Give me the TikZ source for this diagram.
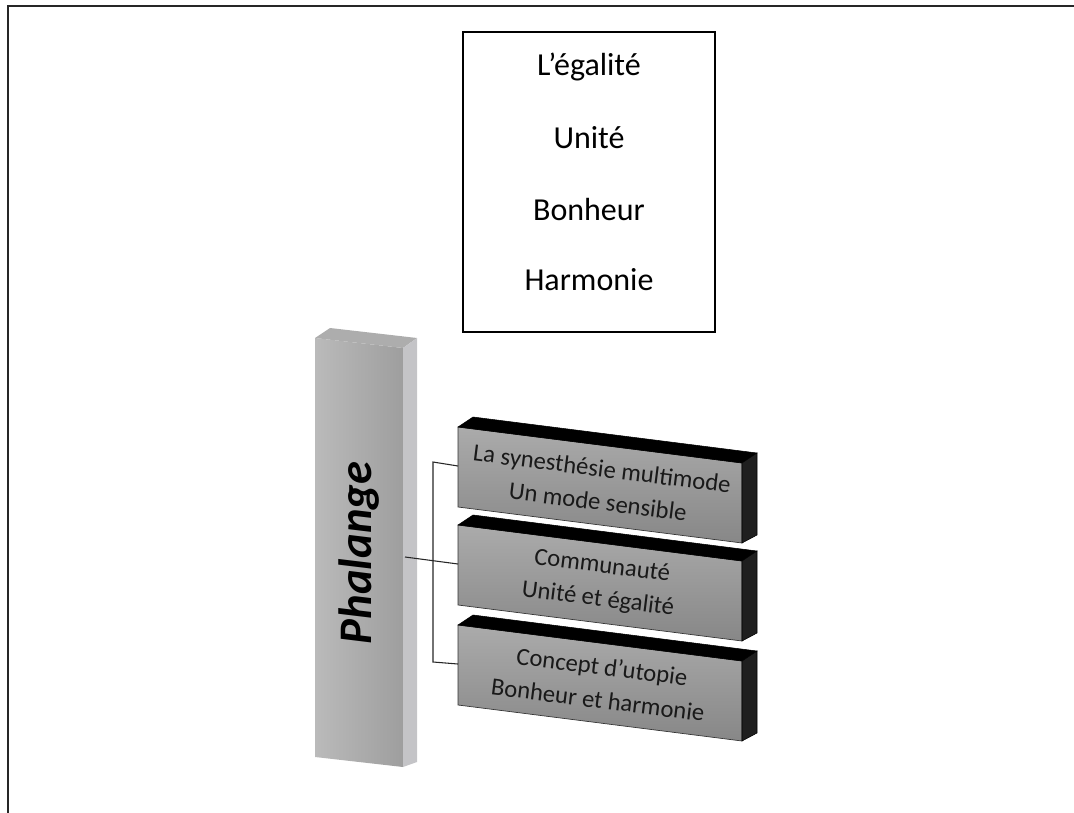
\documentclass[tikz,border=0pt]{standalone}
\usepackage{fontspec}
\setmainfont{Carlito}
\begin{document}
\begin{tikzpicture}[x=0.75pt,y=-0.75pt,
  frameline/.style={line width=1.6pt,draw=black!85},
  listbox/.style={draw=black,line width=1.1pt},
  listtxt/.style={font=\fontsize{24}{28}\selectfont,text=black},
  slabtxt/.style={font=\fontsize{18.5}{25}\selectfont,text=black!90,align=center,rotate=-7.2},
  conn/.style={draw=black!85,line width=0.8pt},
  topface/.style={fill=black,draw=black,line width=0.4pt},
  sideface/.style={fill=black!88,draw=black,line width=0.4pt}]
\useasboundingbox (0,0) rectangle (1074,813);
% outer frame (left and top only)
\draw[frameline] (8,813) -- (8,6) -- (1074,6);

% top list box
\node[listbox,minimum width=252*0.75pt,minimum height=300*0.75pt] (list) at (589,182) {};
\node[listtxt] (t1) at (589,67) {L’égalité};
\node[listtxt] (t2) at (589,138) {Unité};
\node[listtxt] (t3) at (589,210) {Bonheur};
\node[listtxt] (t4) at (589,280) {Harmonie};

% pillar
\shade[left color=black!27,right color=black!38] (315,338) -- (403,348) -- (403,767) -- (315,757) -- cycle;
\fill[black!32] (315,338) -- (330,328) -- (417,338) -- (403,348) -- cycle;
\fill[black!20!blue!3!gray!45] (403,348) -- (417,338) -- (417,762) -- (403,767) -- cycle;
\node[rotate=90,font=\fontsize{35}{40}\selectfont\bfseries\itshape,text=black] (phal) at (359,553) {Phalange};
\coordinate (pe) at (405,557);

% slabs
\foreach \t/\nm in {427/s1,525/s2,625/s3}{
  \shade[top color=black!33,bottom color=black!47,draw=black!80,line width=0.5pt]
    (458,\t) -- (742,\t+36) -- (742,\t+116) -- (458,\t+80) -- cycle;
  \draw[topface] (458,\t) -- (473,\t-10) -- (757,\t+26) -- (742,\t+36) -- cycle;
  \draw[sideface] (742,\t+36) -- (757,\t+26) -- (757,\t+108) -- (742,\t+116) -- cycle;
  \coordinate (\nm w) at (458,\t+39);
}
\node[slabtxt] (s1) at (600,485) {La synesthésie multimode\\Un mode sensible};
\node[slabtxt] (s2) at (600,583) {Communauté\\Unité et égalité};
\node[slabtxt] (s3) at (600,683) {Concept d’utopie\\Bonheur et harmonie};

% connectors
\coordinate (bt) at (433,462);
\coordinate (bb) at (433,662);
\draw[conn] (pe) -- (s2w);
\draw[conn] (s1w) -- (bt) -- (bb) -- (s3w);
\end{tikzpicture}
\end{document}
